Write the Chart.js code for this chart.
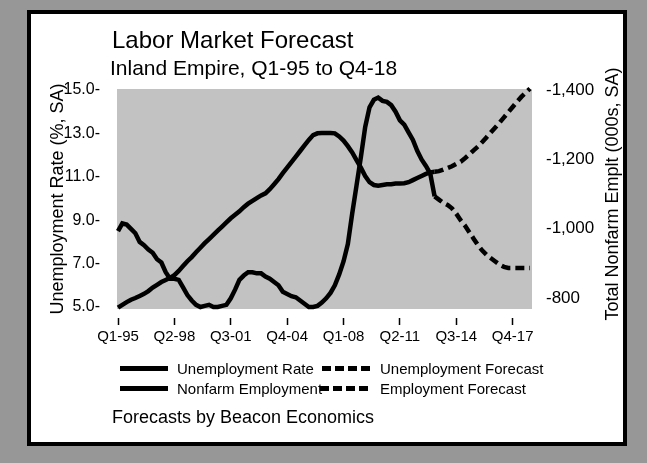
<!DOCTYPE html>
<html>
<head>
<meta charset="utf-8">
<script src="https://cdn.jsdelivr.net/npm/chart.js@4/dist/chart.umd.min.js"></script>
<style>
  body { margin: 0; background: #979797; font-family: "Liberation Sans", Arial, sans-serif; color: #000; }
  #wrap { position: relative; width: 647px; height: 463px; overflow: hidden; }
  #panel { position: absolute; left: 27px; top: 10px; width: 592px; height: 428px; background: #fff; border: 4px solid #000; }
  canvas { position: absolute; left: 0; top: 0; }
  .txt { position: absolute; white-space: nowrap; line-height: 1; }
  .rot { position: absolute; white-space: nowrap; line-height: 1; width: 300px; text-align: center; transform: rotate(-90deg); }
  .solid { position: absolute; width: 48px; height: 5px; background: #000; }
  .dash { position: absolute; width: 50px; height: 5px; background: repeating-linear-gradient(to right, #000 0 9px, transparent 9px 13px); }
</style>
</head>
<body>
<div id="wrap">
  <div id="panel"></div>
  <canvas id="grafico" width="647" height="463"></canvas>

  <div class="txt" style="left:112px; top:28px; font-size:24px;">Labor Market Forecast</div>
  <div class="txt" style="left:110px; top:57px; font-size:21px;">Inland Empire, Q1-95 to Q4-18</div>

  <div class="rot" style="left:-93px; top:190px; font-size:18px;">Unemployment Rate (%, SA)</div>
  <div class="rot" style="left:462px; top:185px; font-size:18px;">Total Nonfarm Emplt (000s, SA)</div>

  <div class="solid" style="left:120px; top:366px;"></div>
  <div class="txt" style="left:177px; top:361px; font-size:15px;">Unemployment Rate</div>
  <div class="dash" style="left:322px; top:366px;"></div>
  <div class="txt" style="left:380px; top:361px; font-size:15px;">Unemployment Forecast</div>

  <div class="solid" style="left:120px; top:386px;"></div>
  <div class="txt" style="left:177px; top:381px; font-size:15px;">Nonfarm Employment</div>
  <div class="dash" style="left:320px; top:386px;"></div>
  <div class="txt" style="left:380px; top:381px; font-size:15px;">Employment Forecast</div>

  <div class="txt" style="left:112px; top:408px; font-size:18px;">Forecasts by Beacon Economics</div>
</div>

<script>
// quarters Q1-95 .. Q4-18
const anos = ['95','96','97','98','99','00','01','02','03','04','05','06','07','08','09','10','11','12','13','14','15','16','17','18']
const trimestres = []
anos.forEach(a => { for (let q = 1; q <= 4; q++) trimestres.push('Q' + q + '-' + a) })

// unemployment rate, % SA (actual up to Q2-13)
const desemprego = [
  8.5, 8.85, 8.8, 8.6, 8.4, 8.0, 7.85, 7.65, 7.5, 7.2,
  7.05, 6.6, 6.3, 6.3, 6.25, 5.9, 5.55, 5.3, 5.1, 5.0,
  5.05, 5.1, 5.0, 5.0, 5.05, 5.1, 5.4, 5.8, 6.25, 6.45,
  6.6, 6.6, 6.55, 6.55, 6.4, 6.3, 6.15, 6.0, 5.7, 5.6,
  5.5, 5.45, 5.3, 5.15, 5.0, 5.0, 5.05, 5.2, 5.4, 5.65,
  6.0, 6.5, 7.1, 7.9, 9.3, 10.6, 11.9, 13.3, 14.2, 14.55,
  14.65, 14.5, 14.45, 14.3, 14.0, 13.6, 13.4, 13.05, 12.7, 12.2,
  11.8, 11.5, 11.15, 10.1,
  null, null, null, null, null, null, null, null, null, null, null, null,
  null, null, null, null, null, null, null, null, null, null, null, null
]

// unemployment forecast
const desempregoPrev = [
  null, null, null, null, null, null, null, null, null, null,
  null, null, null, null, null, null, null, null, null, null,
  null, null, null, null, null, null, null, null, null, null,
  null, null, null, null, null, null, null, null, null, null,
  null, null, null, null, null, null, null, null, null, null,
  null, null, null, null, null, null, null, null, null, null,
  null, null, null, null, null, null, null, null, null, null,
  null, null, null, 10.1,
  9.95, 9.8, 9.7, 9.55, 9.3, 9.0, 8.75, 8.45, 8.15, 7.85, 7.6, 7.4,
  7.25, 7.1, 6.95, 6.85, 6.8, 6.8, 6.8, 6.8, 6.8, 6.8, 6.8, 6.8
]

// total nonfarm employment, 000s SA
const emprego = [
  772, 780, 788, 795, 800, 806, 812, 820, 830, 838,
  846, 852, 858, 866, 878, 892, 906, 918, 932, 945,
  958, 970, 982, 994, 1006, 1018, 1030, 1040, 1050, 1062,
  1072, 1080, 1088, 1096, 1102, 1114, 1128, 1143, 1160, 1176,
  1192, 1208, 1224, 1240, 1256, 1270, 1275, 1276, 1276, 1276,
  1275, 1266, 1254, 1238, 1220, 1198, 1176, 1152, 1134, 1126,
  1124, 1126, 1128, 1128, 1130, 1130, 1131, 1134, 1140, 1146,
  1152, 1158, 1162, 1164,
  null, null, null, null, null, null, null, null, null, null, null, null,
  null, null, null, null, null, null, null, null, null, null, null, null
]

// employment forecast
const empregoPrev = [
  null, null, null, null, null, null, null, null, null, null,
  null, null, null, null, null, null, null, null, null, null,
  null, null, null, null, null, null, null, null, null, null,
  null, null, null, null, null, null, null, null, null, null,
  null, null, null, null, null, null, null, null, null, null,
  null, null, null, null, null, null, null, null, null, null,
  null, null, null, null, null, null, null, null, null, null,
  null, null, null, 1164,
  1166, 1170, 1175, 1180, 1187, 1193, 1203, 1214, 1226, 1237, 1250, 1264,
  1278, 1292, 1306, 1321, 1336, 1351, 1366, 1380, 1392, 1404
]

const ticksEsq = [5, 7, 9, 11, 13, 15]
const ticksDir = [800, 1000, 1200, 1400]
const passo = 13

Chart.defaults.font.family = '"Liberation Sans", Arial, sans-serif'
Chart.defaults.color = '#000'

const fundo = {
  id: 'fundo',
  beforeDraw: (chart) => {
    const { ctx, chartArea } = chart
    ctx.save()
    ctx.fillStyle = '#c2c2c2'
    ctx.fillRect(chartArea.left - 1, chartArea.top - 1, chartArea.right - chartArea.left + 3, chartArea.bottom - chartArea.top + 3)
    ctx.restore()
  }
}

const linha = (dados, eixo, tracejado) => ({
  data: dados,
  yAxisID: eixo,
  borderColor: '#000',
  borderWidth: 4.5,
  borderDash: tracejado ? [9, 5] : [],
  pointRadius: 0,
  tension: 0,
  spanGaps: false,
  clip: false
})

new Chart(document.getElementById('grafico'), {
  type: 'line',
  data: {
    labels: trimestres,
    datasets: [
      linha(desemprego, 'y', false),
      linha(desempregoPrev, 'y', true),
      linha(emprego, 'y2', false),
      linha(empregoPrev, 'y2', true)
    ]
  },
  options: {
    responsive: false,
    animation: false,
    layout: { padding: { top: 90, bottom: 116, left: 0, right: 0 } },
    plugins: { legend: { display: false }, title: { display: false }, tooltip: { enabled: false } },
    scales: {
      x: {
        afterFit: (s) => { s.height = 40 },
        border: { display: false },
        grid: {
          drawOnChartArea: false,
          tickLength: 18,
          tickWidth: 1.5,
          tickBorderDash: [0, 11, 7, 60],
          tickColor: (c) => (c.index % passo === 0 ? '#000' : 'rgba(0,0,0,0)')
        },
        ticks: {
          autoSkip: false,
          maxRotation: 0,
          padding: 3,
          font: { size: 15 },
          callback: (v, i) => (i % passo === 0 ? trimestres[i] : '')
        }
      },
      y: {
        position: 'left',
        min: 5,
        max: 15,
        afterFit: (s) => { s.width = 118 },
        afterBuildTicks: (s) => { s.ticks = ticksEsq.map(v => ({ value: v })) },
        border: { display: false },
        grid: { display: false },
        ticks: { padding: 10, font: { size: 16 }, callback: (v) => v.toFixed(1) + '-' }
      },
      y2: {
        position: 'right',
        min: 774,
        max: 1400,
        afterFit: (s) => { s.width = 117 },
        afterBuildTicks: (s) => { s.ticks = ticksDir.map(v => ({ value: v })) },
        border: { display: false },
        grid: { display: false },
        ticks: { padding: 8, font: { size: 17 }, callback: (v) => '-' + v.toLocaleString('en-US') }
      }
    }
  },
  plugins: [fundo]
})
</script>
</body>
</html>
